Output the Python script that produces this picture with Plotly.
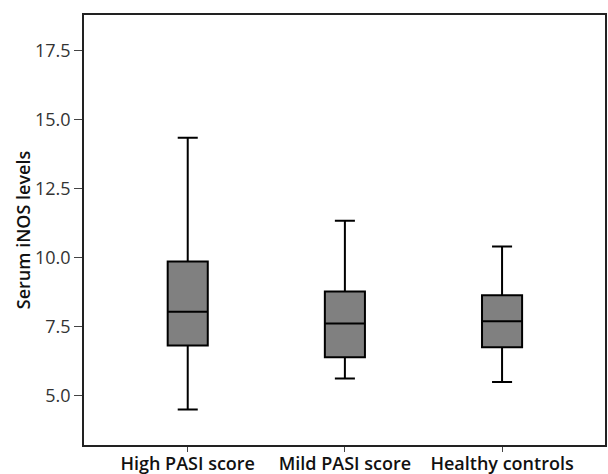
import plotly.graph_objects as go

categories = ["High PASI score", "Mild PASI score", "Healthy controls"]
lower_whisker = [4.49, 5.61, 5.49]
q1_values = [6.81, 6.38, 6.75]
median_values = [8.03, 7.61, 7.69]
q3_values = [9.86, 8.77, 8.63]
upper_whisker = [14.35, 11.34, 10.40]
y_ticks = [5.0, 7.5, 10.0, 12.5, 15.0, 17.5]

fig = go.Figure()
fig.add_trace(go.Box(
    x=categories,
    q1=q1_values,
    median=median_values,
    q3=q3_values,
    lowerfence=lower_whisker,
    upperfence=upper_whisker,
    fillcolor="#808080",
    line=dict(color="black", width=2),
    width=0.255,
    whiskerwidth=0.5,
    boxpoints=False,
    showlegend=False,
    hoverinfo="skip",
))

fig.update_layout(
    template="none",
    width=608, height=474,
    margin=dict(l=84, r=3, t=15, b=29, pad=0),
    paper_bgcolor="white", plot_bgcolor="white",
    font=dict(family="Open Sans", color="#222"),
)
fig.update_xaxes(
    automargin=False,
    range=[-0.66, 2.655],
    showline=True, mirror=True, linecolor="#222", linewidth=1.5,
    ticks="outside", ticklen=5, tickcolor="#444", tickwidth=1,
    ticklabelstandoff=-3,
    showgrid=False, zeroline=False,
    tickfont=dict(size=18, color="#111", family="Open Sans", weight=600),
)
fig.update_yaxes(
    automargin=False,
    range=[3.2, 18.8],
    tickvals=y_ticks, ticktext=[f"{v:.1f}" for v in y_ticks],
    showline=True, mirror=True, linecolor="#222", linewidth=1.5,
    ticks="outside", ticklen=8, tickcolor="#444", tickwidth=1,
    showgrid=False, zeroline=False,
    tickfont=dict(size=18, color="#333", family="Open Sans"),
    title=dict(text="Serum iNOS levels", font=dict(size=18, color="#111", family="Open Sans", weight=600), standoff=0),
)

fig.write_html(
    "out.html",
    config={"displayModeBar": False},
    post_script="document.body.style.margin='0';document.body.style.overflow='hidden';",
)
